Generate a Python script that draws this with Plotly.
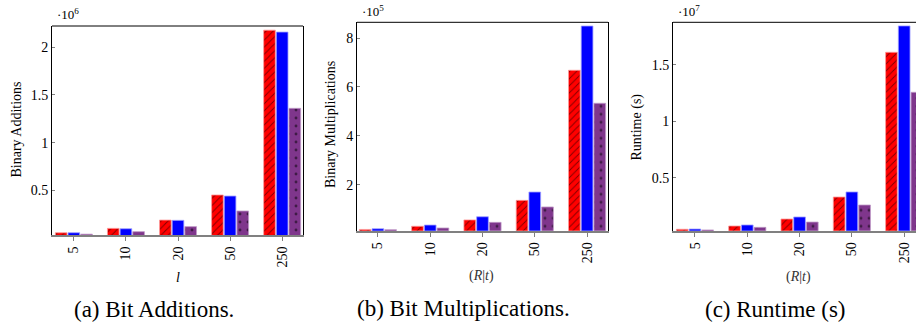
import plotly.graph_objects as go

W, H = 916, 322

categories = ["5", "10", "20", "50", "250"]

add_red = [55e3, 101e3, 188e3, 451e3, 2180e3]
add_blue = [55e3, 97e3, 185e3, 440e3, 2160e3]
add_purple = [40e3, 66e3, 119e3, 283e3, 1360e3]

mul_red = [0.17e5, 0.30e5, 0.56e5, 1.36e5, 6.68e5]
mul_blue = [0.20e5, 0.35e5, 0.69e5, 1.70e5, 8.49e5]
mul_purple = [0.16e5, 0.23e5, 0.46e5, 1.09e5, 5.33e5]

run_red = [0.042e7, 0.071e7, 0.133e7, 0.328e7, 1.612e7]
run_blue = [0.044e7, 0.080e7, 0.151e7, 0.373e7, 1.846e7]
run_purple = [0.036e7, 0.059e7, 0.106e7, 0.257e7, 1.257e7]

add_ticks = [0.5e6, 1e6, 1.5e6, 2e6]
add_ticktext = ["0.5", "1", "1.5", "2"]
mul_ticks = [2e5, 4e5, 6e5, 8e5]
mul_ticktext = ["2", "4", "6", "8"]
run_ticks = [0.5e7, 1e7, 1.5e7]
run_ticktext = ["0.5", "1", "1.5"]

FONT = "Liberation Serif"
RED = "#ff0000"
BLUE = "#0000ff"
PURPLE = "#7f368c"

def px(x):
    return x / W

def py(y):
    return 1 - y / H

xpos = list(range(len(categories)))

fig = go.Figure()

panels = [
    ("x", "y", add_red, add_blue, add_purple),
    ("x2", "y2", mul_red, mul_blue, mul_purple),
    ("x3", "y3", run_red, run_blue, run_purple),
]

for xa, ya, r, b, p in panels:
    fig.add_trace(go.Bar(
        x=xpos, y=r, xaxis=xa, yaxis=ya, offsetgroup="r",
        marker=dict(color=RED, line=dict(color="#ff9a9a", width=0.8),
                    pattern=dict(shape="/", fgcolor="black", bgcolor=RED, size=5, solidity=0.18)),
        showlegend=False))
    fig.add_trace(go.Bar(
        x=xpos, y=b, xaxis=xa, yaxis=ya, offsetgroup="b",
        marker=dict(color=BLUE, line=dict(color="#a0a0ff", width=0.8)),
        showlegend=False))
    fig.add_trace(go.Bar(
        x=xpos, y=p, xaxis=xa, yaxis=ya, offsetgroup="p",
        marker=dict(color=PURPLE, line=dict(color="#c09ac8", width=0.8),
                    pattern=dict(shape=".", fgcolor="black", bgcolor=PURPLE, size=8, solidity=0.1)),
        showlegend=False))

xcommon = dict(
    tickmode="array", tickvals=xpos, ticktext=categories, tickangle=-90,
    showline=True, linecolor="#808080", linewidth=2,
    ticks="outside", ticklen=4, tickcolor="#808080", tickwidth=1,
    showgrid=False, zeroline=False,
    tickfont=dict(family=FONT, size=14, color="black"),
)
ycommon = dict(
    showline=True, linecolor="black", linewidth=1,
    ticks="inside", ticklen=3, tickcolor="#808080", tickwidth=1,
    showgrid=False, zeroline=False,
    tickfont=dict(family=FONT, size=14, color="black"),
)

fig.update_layout(
    width=W, height=H,
    margin=dict(l=0, r=0, t=0, b=0),
    paper_bgcolor="white", plot_bgcolor="white",
    barmode="group", bargap=0.27, bargroupgap=0.08,
    font=dict(family=FONT, color="black"),
    xaxis=dict(domain=[px(52), px(303)], range=[-0.42, 4.4], anchor="y", **xcommon),
    yaxis=dict(domain=[py(235), py(26)], range=[0.0312e6, 2.2235e6], anchor="x",
               mirror=True, tickmode="array", tickvals=add_ticks, ticktext=add_ticktext, **ycommon),
    xaxis2=dict(domain=[px(357), px(608)], range=[-0.40, 4.40], anchor="y2", **xcommon),
    yaxis2=dict(domain=[py(230.7), py(22.3)], range=[0.119e5, 8.642e5], anchor="x2",
                mirror=True, tickmode="array", tickvals=mul_ticks, ticktext=mul_ticktext, **ycommon),
    xaxis3=dict(domain=[px(673), 1.0], range=[-0.42, 4.226], anchor="y3", **xcommon),
    yaxis3=dict(domain=[py(230.7), py(22.3)], range=[0.0293e7, 1.878e7], anchor="x3",
                mirror=False, tickmode="array", tickvals=run_ticks, ticktext=run_ticktext, **ycommon),
)

# top frame lines
for xa, ya in [("x", "y"), ("x2", "y2"), ("x3", "y3")]:
    fig.add_shape(type="line", xref=f"{xa} domain", yref=f"{ya} domain",
                  x0=0, x1=1, y0=1, y1=1, line=dict(color="black", width=1), layer="above")

ann = []
def A(text, x, y, size, angle=0, xanchor="center", yanchor="middle", color="black"):
    ann.append(dict(text=text, x=px(x), y=py(y), xref="paper", yref="paper",
                    showarrow=False, textangle=angle, xanchor=xanchor, yanchor=yanchor,
                    font=dict(family=FONT, size=size, color=color)))

# exponent labels
A("·10<sup>6</sup>", 55, 14, 13, xanchor="left")
A("·10<sup>5</sup>", 360, 11, 13, xanchor="left")
A("·10<sup>7</sup>", 676, 11, 13, xanchor="left")

# y titles
A("Binary Additions", 15.5, 130, 14, angle=-90)
A("Binary Multiplications", 330, 125, 14, angle=-90)
A("Runtime (s)", 636.5, 127, 14, angle=-90)

# x titles
A("<i>l</i>", 177.5, 277, 14)
A("(<i>R</i>|<i>t</i>)", 481, 276, 14, color="#333333")
A("(<i>R</i>|<i>t</i>)", 798, 277, 14, color="#333333")

# captions
A("(a) Bit Additions.", 154, 309, 23)
A("(b) Bit Multiplications.", 464, 308, 23)
A("(c) Runtime (s)", 775.5, 309, 23)

fig.update_layout(annotations=ann)

fig.write_html("out.html", config={"displayModeBar": False},
               post_script="document.body.style.margin='0';document.body.style.overflow='hidden';")
